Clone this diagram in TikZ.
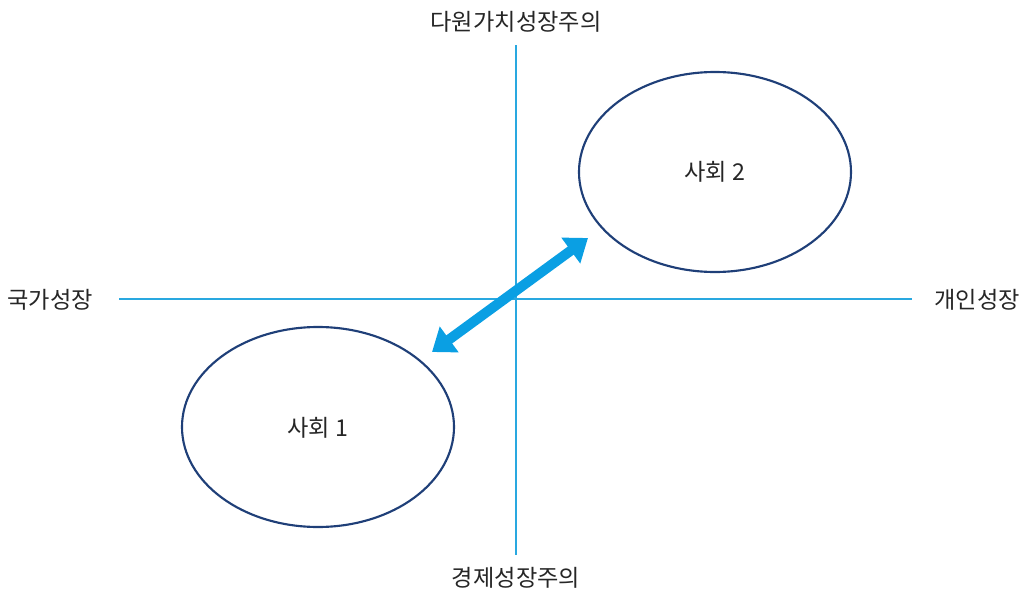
\documentclass[tikz,border=0pt]{standalone}
\usepackage{fontspec}
\setmainfont{Noto Sans CJK KR}
\usetikzlibrary{arrows.meta}
\definecolor{axisblue}{HTML}{29A8E0}
\definecolor{ellblue}{HTML}{1F3F78}
\definecolor{arrblue}{HTML}{0A9FE3}
\tikzset{
  axis/.style={draw=axisblue, line width=1.2pt},
  soc/.style={draw=ellblue, line width=1.6pt},
  lbl/.style={font=\fontsize{17.4}{20}\selectfont, text=black!85, inner sep=0pt},
  dbl/.style={draw=arrblue, line width=7.5pt,
    {Triangle[length=16pt,width=23pt]}-{Triangle[length=16pt,width=23pt]}, shorten <=0pt, shorten >=0pt}
}
\begin{document}
\begin{tikzpicture}[x=0.75pt,y=-0.75pt]
\useasboundingbox (0,0) rectangle (1026,593);
\coordinate (vt) at (516,45);
\coordinate (vb) at (516,555);
\coordinate (hl) at (119,299);
\coordinate (hr) at (912,299);
\draw[axis] (vt) -- (vb);
\draw[axis] (hl) -- (hr);
\node[lbl] (top) at (516,22) {다원가치성장주의};
\node[lbl] (bot) at (516,578) {경제성장주의};
\node[lbl] (lft) at (50,300) {국가성장};
\node[lbl] (rgt) at (977,300) {개인성장};
\draw[soc] (715,172) ellipse [x radius=136, y radius=100];
\draw[soc] (318,427) ellipse [x radius=136, y radius=100];
\node[lbl] (s2) at (715,172) {사회 2};
\node[lbl] (s1) at (318,428) {사회 1};
\coordinate (a1) at (432,352);
\coordinate (a2) at (588,238);
\draw[dbl] (a1) -- (a2);
\end{tikzpicture}
\end{document}
